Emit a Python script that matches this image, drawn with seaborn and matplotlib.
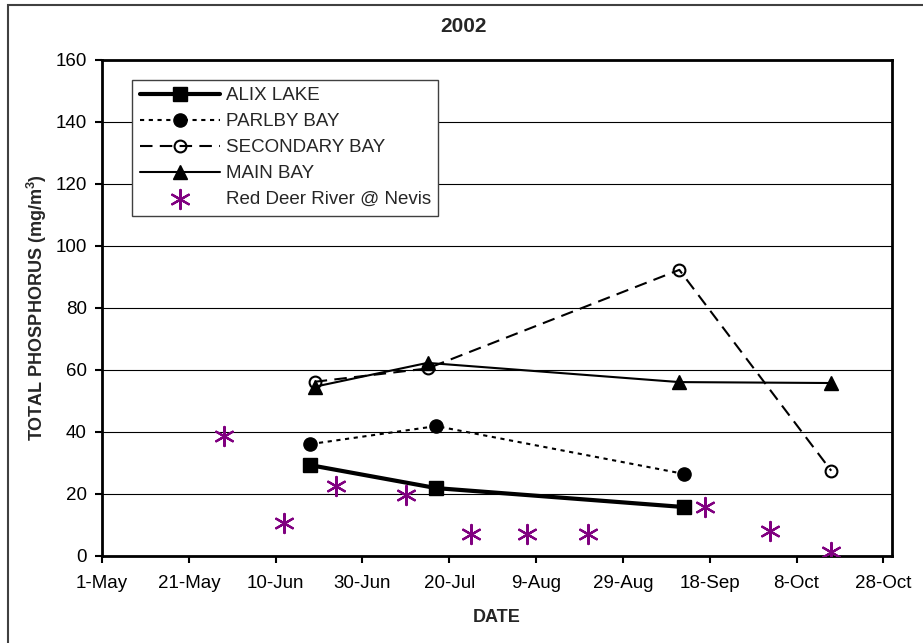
import pandas as pd
import seaborn as sns
import matplotlib.pyplot as plt
import matplotlib.dates as mdates
from matplotlib.patches import Rectangle

# data (total phosphorus, mg/m3)
alix_dates = ["2002-06-18", "2002-07-17", "2002-09-12"]
alix_tp = [29.3, 21.9, 15.8]

parlby_dates = ["2002-06-18", "2002-07-17", "2002-09-12"]
parlby_tp = [36.1, 41.9, 26.5]

secondary_dates = ["2002-06-19", "2002-07-15", "2002-09-11", "2002-10-16"]
secondary_tp = [56.2, 60.5, 92.3, 27.5]

main_dates = ["2002-06-19", "2002-07-15", "2002-09-11", "2002-10-16"]
main_tp = [54.6, 62.3, 56.1, 55.8]

river_dates = ["2002-05-29", "2002-06-12", "2002-06-24", "2002-07-10", "2002-07-25",
               "2002-08-07", "2002-08-21", "2002-09-17", "2002-10-02", "2002-10-16"]
river_tp = [38.7, 10.7, 22.6, 19.7, 7.0, 7.0, 7.0, 15.7, 8.0, 1.4]

sns.set_style("ticks")
plt.rcParams["font.family"] = ["Liberation Sans", "DejaVu Sans"]
plt.rcParams["mathtext.default"] = "regular"

fig = plt.figure(figsize=(9.23, 6.43), dpi=100)
ax = fig.add_axes([102 / 923, 87 / 643, 790 / 923, 496 / 643])


def make_df(dates, vals):
    return pd.DataFrame({"date": pd.to_datetime(dates), "tp": vals})


# lake series
sns.lineplot(data=make_df(alix_dates, alix_tp), x="date", y="tp", ax=ax,
             color="black", lw=3, marker="s", ms=9.5, mfc="black", mec="black",
             mew=1, label="ALIX LAKE")
sns.lineplot(data=make_df(parlby_dates, parlby_tp), x="date", y="tp", ax=ax,
             color="black", lw=1.5, linestyle=(0, (2, 2.2)), marker="o", ms=9.5,
             mfc="black", mec="black", mew=1, label="PARLBY BAY")
sns.lineplot(data=make_df(secondary_dates, secondary_tp), x="date", y="tp", ax=ax,
             color="black", lw=1.5, linestyle=(0, (6, 3.5)), marker="o", ms=8.5,
             mfc="none", mec="black", mew=1.5, label="SECONDARY BAY")
sns.lineplot(data=make_df(main_dates, main_tp), x="date", y="tp", ax=ax,
             color="black", lw=1.5, marker="^", ms=10, mfc="black", mec="black",
             mew=1, label="MAIN BAY")

# river samples, markers only
sns.scatterplot(data=make_df(river_dates, river_tp), x="date", y="tp", ax=ax,
                marker=(6, 2, 0), s=190, color="#800080", linewidth=1.6,
                label="Red Deer River @ Nevis", zorder=5)

# axes
ax.set_xlim(pd.Timestamp("2002-05-01"), pd.Timestamp("2002-10-30"))
ax.set_xticks(pd.date_range("2002-05-01", "2002-10-28", freq="20D"))
ax.xaxis.set_major_formatter(mdates.DateFormatter("%-d-%b"))
ax.set_ylim(0, 160)
ax.set_yticks(range(0, 161, 20))
ax.set_axisbelow(True)
ax.grid(axis="y", color="black", lw=0.8)
ax.grid(axis="x", visible=False)

for sp in ax.spines.values():
    sp.set_visible(True)
    sp.set_linewidth(2)
    sp.set_color("black")

ax.tick_params(direction="out", length=5, width=1.5, labelsize=13.5,
               colors="black")
ax.tick_params(axis="x", pad=9)
ax.tick_params(axis="y", pad=6)

ax.set_xlabel("DATE", fontsize=13, fontweight="bold")
ax.xaxis.set_label_coords(0.5, -0.123)
ax.xaxis.label.set_va("center")
ax.set_ylabel("TOTAL PHOSPHORUS (mg/m$^3$)", fontsize=13, fontweight="bold")
ax.yaxis.set_label_coords(-0.082, 0.5)
ax.yaxis.label.set_va("center")

fig.text(464 / 923, 1 - 27 / 643, "2002", ha="center", va="center",
         fontsize=15, fontweight="bold")

leg = ax.legend(loc="upper left", bbox_to_anchor=(0.038, 0.96), borderaxespad=0,
                frameon=True, fancybox=False, edgecolor="#404040", framealpha=1,
                handlelength=4.3, handletextpad=0.3, borderpad=0.4,
                labelspacing=0.47, fontsize=13.5, numpoints=1, scatterpoints=1)
leg.get_frame().set_linewidth(1)

# outer chart border (right/bottom edges fall outside the image)
fig.add_artist(Rectangle((8 / 923, -0.05), 1.0, 638 / 643 + 0.05,
                         transform=fig.transFigure, fill=False,
                         edgecolor="#404040", lw=1.5))

fig.savefig("out.png", dpi=100)
